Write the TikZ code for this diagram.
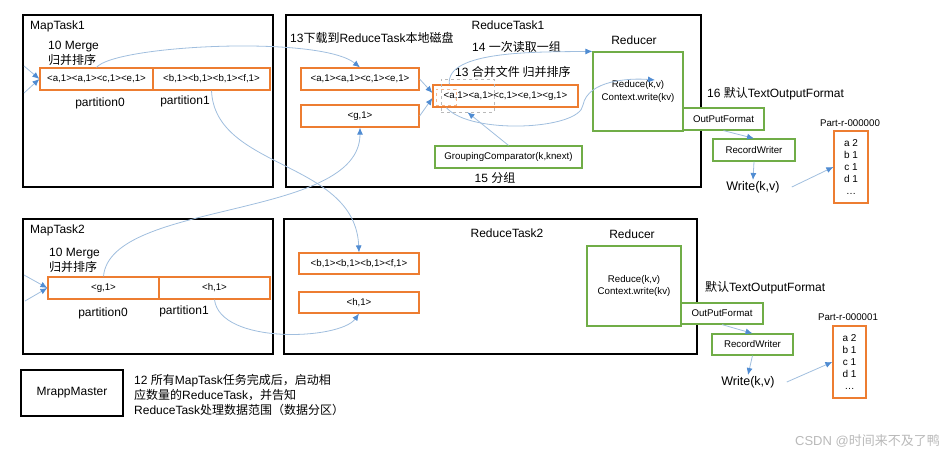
\documentclass[tikz,border=0pt]{standalone}
\usepackage{fontspec}
\setmainfont{Liberation Sans}
\newfontfamily\cjk{Noto Sans CJK SC}
\usetikzlibrary{arrows.meta}
\definecolor{ColorOrange}{RGB}{237,125,49}
\definecolor{ColorGreen}{RGB}{112,173,71}
\definecolor{ColorLine}{RGB}{160,190,222}
\definecolor{ColorTip}{RGB}{80,140,210}
\newcommand{\zh}[1]{{\cjk #1}}
\tikzset{
  taskbox/.style={draw=black, line width=1.3pt, inner sep=0pt},
  obox/.style={draw=ColorOrange, line width=1.2pt, fill=white, inner sep=0pt, font=\fontsize{9.7}{12}\selectfont},
  gbox/.style={draw=ColorGreen, line width=1.2pt, fill=white, inner sep=0pt, align=center, font=\fontsize{9.7}{12.5}\selectfont},
  lbl/.style={inner sep=1pt, font=\fontsize{12}{15}\selectfont},
  slbl/.style={inner sep=1pt, font=\fontsize{9.7}{12}\selectfont},
  flow/.style={draw=ColorLine, line width=0.8pt, -{Latex[length=7pt,width=6pt,color=ColorTip]}},
}

\begin{document}
\begin{tikzpicture}[x=1pt,y=-1pt]
        \useasboundingbox (0,0) rectangle (946,458);
        %Khung
        \node[taskbox, minimum width=250pt, minimum height=172pt] (map1) at (148,101) {};
        \node[taskbox, minimum width=415pt, minimum height=172pt] (red1) at (493.5,101) {};
        \node[taskbox, minimum width=250pt, minimum height=135pt] (map2) at (148,286.5) {};
        \node[taskbox, minimum width=413pt, minimum height=135pt] (red2) at (490.5,286.5) {};
        \node[taskbox, minimum width=102pt, minimum height=46pt, font=\fontsize{12}{15}\selectfont] (master) at (72,393) {MrappMaster};
        %MapTask1
        \node[lbl, anchor=west] (t1) at (29,26) {MapTask1};
        \node[lbl, anchor=west, align=left] (mg1) at (47,53.5) {10 Merge\\\zh{归并排序}};
        \node[obox, minimum width=113pt, minimum height=22pt] (m1p0) at (96.5,79) {<a,1><a,1><c,1><e,1>};
        \node[obox, minimum width=117pt, minimum height=22pt] (m1p1) at (211.5,79) {<b,1><b,1><b,1><f,1>};
        \node[lbl] (pa1) at (100,103) {partition0};
        \node[lbl] (pb1) at (185,101) {partition1};
        \coordinate (in1a) at (24,66);
        \coordinate (in1b) at (24,93);
        \draw[flow] (in1a) -- (m1p0.west);
        \draw[flow] (in1b) -- (m1p0.west);
        %MapTask2
        \node[lbl, anchor=west] (t2) at (29,230) {MapTask2};
        \node[lbl, anchor=west, align=left] (mg2) at (48,260.5) {10 Merge\\\zh{归并排序}};
        \node[obox, minimum width=111pt, minimum height=22pt] (m2p0) at (103.5,288) {<g,1>};
        \node[obox, minimum width=111pt, minimum height=22pt] (m2p1) at (214.5,288) {<h,1>};
        \node[lbl] (pa2) at (103,313) {partition0};
        \node[lbl] (pb2) at (184,311) {partition1};
        \coordinate (in2a) at (24,275);
        \coordinate (in2b) at (25,301);
        \draw[flow] (in2a) -- (m2p0.west);
        \draw[flow] (in2b) -- (m2p0.west);
        %ReduceTask1
        \node[lbl] (t3) at (508,25) {ReduceTask1};
        \node[lbl, anchor=west] (dl) at (289,38) {13\zh{下载到}ReduceTask\zh{本地磁盘}};
        \node[lbl, anchor=west] (rd) at (471,47) {14 \zh{一次读取一组}};
        \node[lbl, anchor=west] (hb) at (454,72) {13 \zh{合并文件 归并排序}};
        \node[lbl] (rc1) at (634,40) {Reducer};
        \node[obox, minimum width=118pt, minimum height=22pt] (r1a) at (360,79) {<a,1><a,1><c,1><e,1>};
        \node[obox, minimum width=118pt, minimum height=22pt] (r1b) at (360,116) {<g,1>};
        \node[obox, minimum width=145pt, minimum height=22pt] (r1m) at (505.5,96) {<a,1><a,1><c,1><e,1><g,1>};
        \node[draw=gray!55, dashed, line width=0.6pt, minimum width=53pt, minimum height=33pt, inner sep=0pt] (gdash) at (467.5,95.5) {};
        \node[draw=ColorOrange!55, dashed, line width=0.6pt, minimum width=20pt, minimum height=16pt, inner sep=0pt] (adash) at (446,97) {};
        \node[gbox, minimum width=90pt, minimum height=79pt] (rd1) at (638,91.5) {Reduce(k,v)\\Context.write(kv)};
        \node[gbox, minimum width=147pt, minimum height=22pt] (grp) at (508.5,157) {GroupingComparator(k,knext)};
        \node[lbl] (fz) at (495,178) {15 \zh{分组}};
        \coordinate (rdin) at (655,80);
        \draw[flow] (r1a.east) -- ([yshift=3pt]r1m.west);
        \draw[flow] (r1b.east) -- ([yshift=-2pt]r1m.west);
        \draw[flow] ([xshift=17pt]r1m.north west) .. controls (445,50) and (540,52) .. (rd1.north west);
        \draw[flow] ([xshift=14pt]r1m.south west) .. controls (470,135) and (580,130) .. (583,105) .. controls (588,80) and (630,78) .. (rdin);
        \draw[flow] (grp.north) -- (gdash.south);
        %Output1
        \node[lbl, anchor=west] (tf1) at (706,94) {16 \zh{默认}TextOutputFormat};
        \node[gbox, minimum width=81pt, minimum height=22pt] (of1) at (723.5,119) {OutPutFormat};
        \node[gbox, minimum width=82pt, minimum height=22pt] (rw1) at (754,150) {RecordWriter};
        \node[lbl, font=\fontsize{12.5}{15}\selectfont] (wr1) at (753,187) {Write(k,v)};
        \node[slbl] (pt1) at (850,123) {Part-r-000000};
        \node[obox, minimum width=34pt, minimum height=72pt, align=center, font=\fontsize{10}{12}\selectfont] (part1) at (851,167) {a 2\\b 1\\c 1\\d 1\\\ldots};
        \draw[flow] (of1.south) -- (rw1.north);
        \draw[flow] (rw1.south) -- (wr1.north);
        \draw[flow] ([xshift=11pt]wr1.east) -- (part1.west);
        %ReduceTask2
        \node[lbl] (t4) at (507,233) {ReduceTask2};
        \node[lbl] (rc2) at (632,234) {Reducer};
        \node[obox, minimum width=120pt, minimum height=21pt] (r2a) at (359,263.5) {<b,1><b,1><b,1><f,1>};
        \node[obox, minimum width=120pt, minimum height=21pt] (r2b) at (359,302.5) {<h,1>};
        \node[gbox, minimum width=94pt, minimum height=80pt] (rd2) at (634,286) {Reduce(k,v)\\Context.write(kv)};
        %Output2
        \node[lbl, anchor=west] (tf2) at (704,288) {\zh{默认}TextOutputFormat};
        \node[gbox, minimum width=82pt, minimum height=21pt] (of2) at (722,313.5) {OutPutFormat};
        \node[gbox, minimum width=81pt, minimum height=21pt] (rw2) at (752.5,344.5) {RecordWriter};
        \node[lbl, font=\fontsize{12.5}{15}\selectfont] (wr2) at (748,382) {Write(k,v)};
        \node[slbl] (pt2) at (848,317) {Part-r-000001};
        \node[obox, minimum width=33pt, minimum height=72pt, align=center, font=\fontsize{10}{12}\selectfont] (part2) at (849.5,362) {a 2\\b 1\\c 1\\d 1\\\ldots};
        \draw[flow] (of2.south) -- (rw2.north);
        \draw[flow] (rw2.south) -- (wr2.north);
        \draw[flow] ([xshift=11pt]wr2.east) -- (part2.west);
        %Shuffle
        \draw[flow] (m1p0.north) .. controls (115,45) and (320,35) .. (r1a.north);
        \draw[flow] (m1p1.south) .. controls (215,170) and (355,160) .. (r2a.north);
        \draw[flow] (m2p0.north) .. controls (110,200) and (360,220) .. (r1b.south);
        \draw[flow] (m2p1.south) .. controls (220,345) and (340,340) .. (r2b.south);
        %Master
        \node[lbl, anchor=west, align=left] (note) at (133,395) {12 \zh{所有}MapTask\zh{任务完成后，启动相}\\\zh{应数量的}ReduceTask\zh{，并告知}\\ReduceTask\zh{处理数据范围（数据分区）}};
        \node[lbl, anchor=east, text=gray!55, font=\fontsize{13}{15}\selectfont] (wm) at (941,441) {CSDN @\zh{时间来不及了鸭}};
    \end{tikzpicture}
\end{document}
